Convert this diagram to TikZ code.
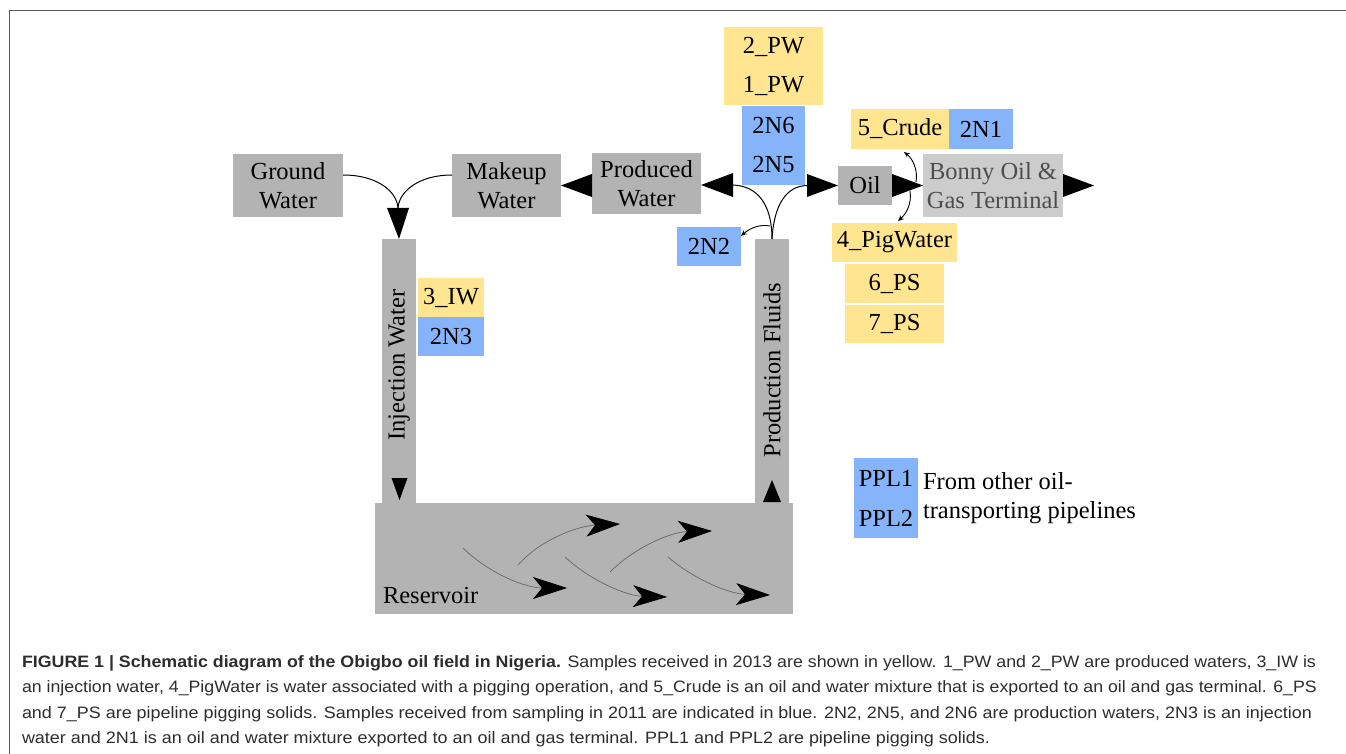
\documentclass[tikz,border=0pt]{standalone}
\usepackage{fontspec}
\setmainfont{Liberation Serif}
\newfontfamily\capfont{Liberation Sans}
\usetikzlibrary{arrows.meta}
\definecolor{boxgray}{RGB}{179,179,179}
\definecolor{termgray}{RGB}{204,204,204}
\definecolor{termtext}{RGB}{77,77,77}
\definecolor{sampyellow}{RGB}{255,229,143}
\definecolor{sampblue}{RGB}{134,180,250}
\definecolor{framegray}{RGB}{90,90,90}
\definecolor{captextcol}{RGB}{45,45,45}
\begin{document}
\begin{tikzpicture}[x=1pt,y=-1pt,
 every node/.style={inner sep=0pt, outer sep=0pt},
 boxfont/.style={font=\fontsize{24.5}{29}\selectfont},
 graybox/.style={boxfont, fill=boxgray, align=center},
 termbox/.style={boxfont, fill=termgray, text=termtext, align=center},
 ybox/.style={boxfont, fill=sampyellow},
 bbox/.style={boxfont, fill=sampblue},
 flow/.style={line width=1pt},
 bighead/.style={fill=black},
 smallarrow/.style={line width=0.9pt, -{Stealth[length=6pt,width=5pt]}},
 resarrow/.style={line width=0.7pt, black!60, -{Stealth[length=34pt,width=22pt,inset=9pt,color=black]}},
 captext/.style={font=\capfont\fontsize{16.5}{20}\selectfont, text=captextcol, anchor=base west}
]
\useasboundingbox (0,0) rectangle (1346,754);
% frame
\draw[line width=1.5pt, framegray] (9.5,754) -- (9.5,10.5) -- (1346,10.5);

% top row boxes
\node[graybox, minimum width=110pt, minimum height=62pt] (gw) at (288,185.5) {Ground\\Water};
\node[graybox, minimum width=109pt, minimum height=62pt] (mw) at (506.5,185.5) {Makeup\\Water};
\node[graybox, minimum width=109pt, minimum height=61pt] (pw) at (646.5,183.5) {Produced\\Water};
\node[graybox, minimum width=54pt, minimum height=39pt] (oil) at (865,185.5) {Oil};
\node[termbox, minimum width=140pt, minimum height=63pt] (bonny) at (993,185.5) {Bonny Oil \&\\Gas Terminal};
\coordinate (out) at (1094,185.5);

% sample boxes
\node[ybox, minimum width=99pt, minimum height=39pt] (pw2) at (773.5,46.5) {2\_PW};
\node[ybox, minimum width=99pt, minimum height=39pt] (pw1) at (773.5,86) {1\_PW};
\node[bbox, minimum width=63pt, minimum height=39pt] (n6) at (773.5,125.5) {2N6};
\node[bbox, minimum width=63pt, minimum height=40pt] (n5) at (773.5,165) {2N5};
\node[ybox, minimum width=98pt, minimum height=40pt] (crude) at (900,129) {5\_Crude};
\node[bbox, minimum width=64pt, minimum height=40pt] (n1) at (981,129) {2N1};
\node[ybox, minimum width=125pt, minimum height=39pt] (pig) at (894.5,242.5) {4\_PigWater};
\node[ybox, minimum width=99pt, minimum height=39pt] (ps6) at (894.5,283.5) {6\_PS};
\node[ybox, minimum width=99pt, minimum height=38pt] (ps7) at (894.5,324) {7\_PS};
\node[bbox, minimum width=64pt, minimum height=39pt] (n2) at (709,246.5) {2N2};
\node[ybox, minimum width=66pt, minimum height=39pt] (iw3) at (451,297.5) {3\_IW};
\node[bbox, minimum width=66pt, minimum height=39pt] (n3) at (451,336.5) {2N3};
\node[bbox, minimum width=64pt, minimum height=40pt] (ppl1) at (886,478) {PPL1};
\node[bbox, minimum width=64pt, minimum height=40pt] (ppl2) at (886,518) {PPL2};
\node[boxfont, align=left, anchor=west] (pplnote) at (923,498) {From other oil-\\transporting pipelines};

% columns and reservoir
\node[graybox, minimum width=34pt, minimum height=264pt] (inj) at (399,371) {};
\node[boxfont, rotate=90] (injlabel) at (399,365) {Injection Water};
\node[graybox, minimum width=34pt, minimum height=264pt] (prod) at (772,371) {};
\node[boxfont, rotate=90] (prodlabel) at (772,370) {Production Fluids};
\node[graybox, minimum width=418pt, minimum height=111pt] (res) at (584,558.5) {};
\node[boxfont, anchor=base west] (reslabel) at (383,603) {Reservoir};

% flow curves into injection
\draw[flow] ([yshift=10.5pt]gw.east) .. controls (378,175) and (397,192) .. (398,208);
\draw[flow] ([yshift=10.5pt]mw.west) .. controls (418,175) and (399,192) .. (398,208);
\fill[bighead] (inj.north) -- (387,208) -- (409,208) -- cycle;

% produced -> makeup
\fill[bighead] (mw.east) -- (592,174) -- (592,197) -- cycle;

% production fluids split
\draw[flow] (prod.north) .. controls (772,205) and (758,186) .. (733,185);
\draw[flow] (prod.north) .. controls (774,205) and (786,186) .. (807,185.5);
\fill[bighead] (701,185) -- (733,173) -- (733,197) -- cycle;
\fill[bighead] (oil.west) -- (807,174) -- (807,197) -- cycle;
\draw[smallarrow] (770,226) .. controls (760,224) and (750,228) .. (n2.east |- 0,236);

% oil -> terminal -> out
\fill[bighead] (bonny.west) -- (892,174) -- (892,197) -- cycle;
\fill[bighead] (out) -- (1063,174) -- (1063,197) -- cycle;
\draw[smallarrow] (916,182) .. controls (918,170) and (913,159) .. (904,152);
\draw[smallarrow] (910,191) .. controls (912,204) and (906,214) .. (898,221);

% column end arrows
\fill[bighead] (391.5,478) -- (407.5,478) -- (399.5,500) -- cycle;
\fill[bighead] (763,502) -- (781,502) -- (772,480) -- cycle;

% reservoir flow arrows
\draw[resarrow] (463,548) .. controls (492,576) and (528,588) .. (567,588);
\draw[resarrow] (518,565) .. controls (540,540) and (577,526) .. (620,524);
\draw[resarrow] (565,557) .. controls (592,582) and (628,596) .. (667,597);
\draw[resarrow] (610,572) .. controls (634,548) and (670,532) .. (712,531);
\draw[resarrow] (668,557) .. controls (696,581) and (731,594) .. (770,595);

% caption
\node[captext] (cap1) at (22,667) {\resizebox{1294pt}{\height}{\textbf{FIGURE 1 | Schematic diagram of the Obigbo oil field in Nigeria.} Samples received in 2013 are shown in yellow. 1\_PW and 2\_PW are produced waters, 3\_IW is}};
\node[captext] (cap2) at (22,692.5) {\resizebox{1295pt}{\height}{an injection water, 4\_PigWater is water associated with a pigging operation, and 5\_Crude is an oil and water mixture that is exported to an oil and gas terminal. 6\_PS}};
\node[captext] (cap3) at (22,718) {\resizebox{1290pt}{\height}{and 7\_PS are pipeline pigging solids. Samples received from sampling in 2011 are indicated in blue. 2N2, 2N5, and 2N6 are production waters, 2N3 is an injection}};
\node[captext] (cap4) at (22,743.5) {\resizebox{968pt}{\height}{water and 2N1 is an oil and water mixture exported to an oil and gas terminal. PPL1 and PPL2 are pipeline pigging solids.}};
\end{tikzpicture}
\end{document}
